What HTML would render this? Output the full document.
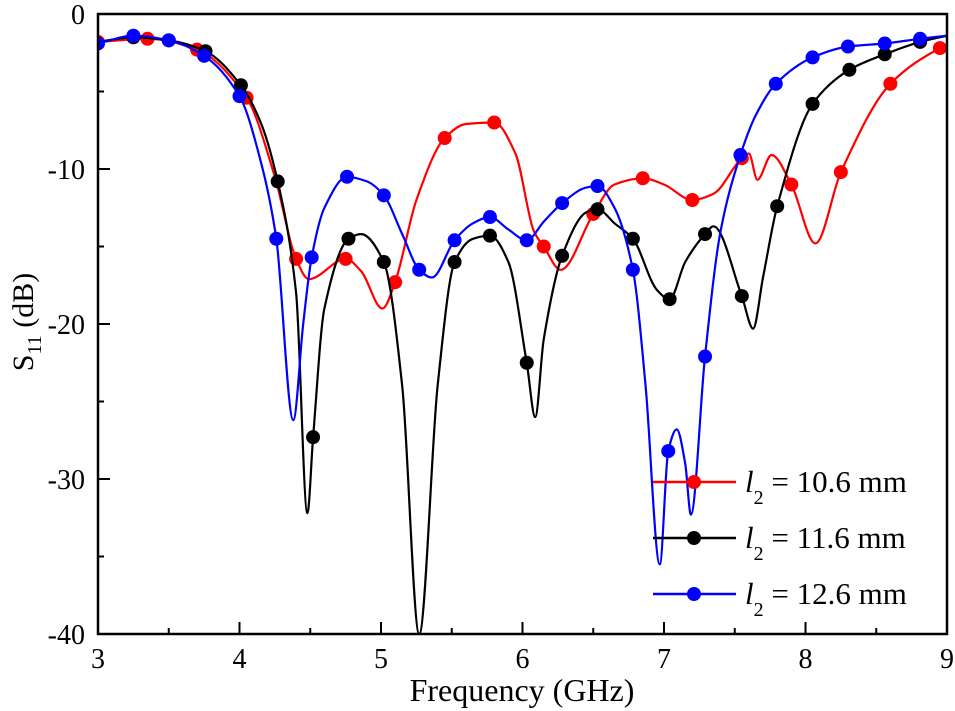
<!DOCTYPE html>
<html><head><meta charset="utf-8"><style>
html,body{margin:0;padding:0;background:#fff;overflow:hidden;}
svg{display:block;font-family:"Liberation Serif",serif;}
</style></head><body>
<svg id="chart" width="955" height="711" viewBox="0 0 955 711">
<g id="plot"></g>
<text x="522" y="701" font-size="32" text-anchor="middle">Frequency (GHz)</text>
<text transform="translate(33,322) rotate(-90)" font-size="30" text-anchor="middle">S<tspan font-size="20" dy="8">11</tspan><tspan dy="-8"> (dB)</tspan></text>
</svg>
<script>
const xTicks=[3,4,5,6,7,8,9];
const yTicks=[0,-10,-20,-30,-40];
const seriesNames=["l2 = 10.6 mm","l2 = 11.6 mm","l2 = 12.6 mm"];
const redX=[3,3.35,3.7,4.05,4.25,4.4,4.49,4.75,4.86,5.01,5.1,5.25,5.45,5.6,5.8,5.95,6.08,6.15,6.27,6.5,6.65,6.85,7.0,7.2,7.35,7.55,7.6,7.66,7.76,7.9,8.07,8.25,8.6,8.95,9];
const redY=[-1.8,-1.6,-2.3,-5.4,-10.5,-15.8,-17.1,-15.8,-16.6,-19,-17.3,-12,-8,-7.1,-7,-9,-14,-15,-16.5,-12.9,-11,-10.6,-11,-12,-11.6,-9.3,-9.0,-10.7,-9.1,-11,-14.8,-10.2,-4.5,-2.2,-2.0];
const blackX=[3,3.25,3.5,3.76,4.01,4.15,4.27,4.4,4.48,4.52,4.6,4.77,4.86,5.02,5.15,5.27,5.4,5.52,5.65,5.77,5.9,6.03,6.09,6.15,6.28,6.45,6.53,6.65,6.78,6.95,7.04,7.15,7.29,7.35,7.55,7.63,7.7,7.8,8.05,8.31,8.56,8.81,9];
const blackY=[-1.8,-1.5,-1.7,-2.4,-4.6,-7,-10.8,-18,-32.2,-27.3,-19,-14.5,-14.2,-16,-24,-40,-24,-16,-14.5,-14.3,-16,-22.5,-26,-21,-15.6,-12.8,-12.6,-13.5,-14.5,-17.8,-18.4,-16,-14.2,-13.7,-18.2,-20.3,-17,-12.4,-5.8,-3.6,-2.6,-1.8,-1.4];
const blueX=[3,3.25,3.5,3.75,4.0,4.15,4.26,4.38,4.45,4.51,4.6,4.76,4.9,5.02,5.15,5.27,5.36,5.52,5.65,5.77,5.9,6.03,6.15,6.28,6.45,6.53,6.65,6.78,6.87,6.97,7.03,7.09,7.15,7.19,7.29,7.4,7.54,7.65,7.79,8.05,8.3,8.56,8.81,9];
const blueY=[-1.9,-1.4,-1.7,-2.7,-5.3,-9.5,-14.5,-26.2,-20,-15.7,-12.5,-10.5,-10.8,-11.7,-14.2,-16.5,-17,-14.6,-13.5,-13.1,-13.9,-14.6,-13.4,-12.2,-11.2,-11.1,-12.5,-16.5,-24,-35.5,-28.2,-26.8,-29,-32.3,-22.1,-14,-9.1,-6.5,-4.5,-2.8,-2.1,-1.9,-1.6,-1.4];
const redMX=[3,3.35,3.7,4.05,4.4,4.75,5.1,5.45,5.8,6.15,6.5,6.85,7.2,7.55,7.9,8.25,8.6,8.95];
const redMY=[-1.8,-1.6,-2.3,-5.4,-15.8,-15.8,-17.3,-8,-7,-15,-12.9,-10.6,-12,-9.3,-11,-10.2,-4.5,-2.2];
const blackMX=[3.25,3.5,3.76,4.01,4.27,4.52,4.77,5.02,5.52,5.77,6.03,6.28,6.53,6.78,7.04,7.29,7.55,7.8,8.05,8.31,8.56,8.81];
const blackMY=[-1.5,-1.7,-2.4,-4.6,-10.8,-27.3,-14.5,-16,-16,-14.3,-22.5,-15.6,-12.6,-14.5,-18.4,-14.2,-18.2,-12.4,-5.8,-3.6,-2.6,-1.8];
const blueMX=[3,3.25,3.5,3.75,4.0,4.26,4.51,4.76,5.02,5.27,5.52,5.77,6.03,6.28,6.53,6.78,7.03,7.29,7.54,7.79,8.05,8.3,8.56,8.81];
const blueMY=[-1.9,-1.4,-1.7,-2.7,-5.3,-14.5,-15.7,-10.5,-11.7,-16.5,-14.6,-13.1,-14.6,-12.2,-11.1,-16.5,-28.2,-22.1,-9.1,-4.5,-2.8,-2.1,-1.9,-1.6];

const L=98,R=947,T=14,B=634;
const sx=v=>L+(v-3)/6*(R-L);
const sy=v=>T+(0-v)/40*(B-T);
const NS="http://www.w3.org/2000/svg";
const svg=document.getElementById('chart');
const plot=document.getElementById('plot');
function mk(tag,attrs,parent){const e=document.createElementNS(NS,tag);for(const k in attrs)e.setAttribute(k,attrs[k]);(parent||svg).appendChild(e);return e;}

const defs=mk('defs',{});
const cp=mk('clipPath',{id:'clip'},defs);
mk('rect',{x:L,y:T-2,width:R-L,height:B-T+2},cp);

function monotone(xs,ys){
  const n=xs.length,px=xs.map(sx),py=ys.map(sy);
  const d=[],m=[];
  for(let i=0;i<n-1;i++)d.push((py[i+1]-py[i])/(px[i+1]-px[i]));
  m[0]=d[0];m[n-1]=d[n-2];
  for(let i=1;i<n-1;i++){m[i]=(d[i-1]*d[i]<=0)?0:2/(1/d[i-1]+1/d[i]);}
  let s='M'+px[0].toFixed(1)+','+py[0].toFixed(1);
  for(let i=0;i<n-1;i++){const h=px[i+1]-px[i];
    s+=' C'+(px[i]+h/3).toFixed(1)+','+(py[i]+m[i]*h/3).toFixed(1)+' '+(px[i+1]-h/3).toFixed(1)+','+(py[i+1]-m[i+1]*h/3).toFixed(1)+' '+px[i+1].toFixed(1)+','+py[i+1].toFixed(1);}
  return s;
}
const series=[
 {name:'series-10-6mm',c:'#ff0000',x:redX,y:redY,mx:redMX,my:redMY},
 {name:'series-11-6mm',c:'#000000',x:blackX,y:blackY,mx:blackMX,my:blackMY},
 {name:'series-12-6mm',c:'#0000ff',x:blueX,y:blueY,mx:blueMX,my:blueMY}
];
const g0=mk('g',{'clip-path':'url(#clip)'},plot);
series.forEach(s=>{
  const g=mk('g',{},g0);
  
  
  const p=mk('path',{d:monotone(s.x,s.y),fill:'none',stroke:s.c,'stroke-width':2.2},g);
  
  
  s.mx.forEach((v,i)=>{
    const c=mk('circle',{cx:sx(v),cy:sy(s.my[i]),r:7,fill:s.c},g);
    
    
  });
});

const frame=mk('rect',{x:L,y:T,width:R-L,height:B-T,fill:'none',stroke:'#000','stroke-width':2.5});


xTicks.forEach((v,i)=>{
  const x=sx(v);
  const t=mk('line',{x1:x,y1:B,x2:x,y2:B-12,stroke:'#000','stroke-width':2});
  
  
  if(i<xTicks.length-1){const xm=sx(v+0.5);
    const mt=mk('line',{x1:xm,y1:B,x2:xm,y2:B-6,stroke:'#000','stroke-width':2});
    
    }
  const lb=mk('text',{x:x,y:668,'font-size':28,'text-anchor':'middle'});
  lb.textContent=v;
  
  
});
yTicks.forEach((v,i)=>{
  const y=sy(v);
  const t=mk('line',{x1:L,y1:y,x2:L+12,y2:y,stroke:'#000','stroke-width':2});
  
  
  if(i<yTicks.length-1){const ym=sy(v-5);
    const mt=mk('line',{x1:L,y1:ym,x2:L+6,y2:ym,stroke:'#000','stroke-width':2});
    
    }
  const lb=mk('text',{x:L-13,y:y+10,'font-size':28,'text-anchor':'end'});
  lb.textContent=v;
  
  
});
const lg=mk('g',{});


const legY=[482,538,594];
const legVals=['10.6','11.6','12.6'];
series.forEach((s,i)=>{
  const e=mk('g',{},lg);
  
  
  mk('line',{x1:653,y1:legY[i],x2:736,y2:legY[i],stroke:s.c,'stroke-width':2.5},e);
  mk('circle',{cx:694,cy:legY[i],r:7,fill:s.c},e);
  const t=mk('text',{x:745,y:legY[i]+10,'font-size':31},e);
  t.innerHTML='<tspan font-style="italic">l</tspan><tspan font-size="20" dy="12">2</tspan><tspan dy="-12"> = '+legVals[i]+' mm</tspan>';
});
</script>
</body></html>
